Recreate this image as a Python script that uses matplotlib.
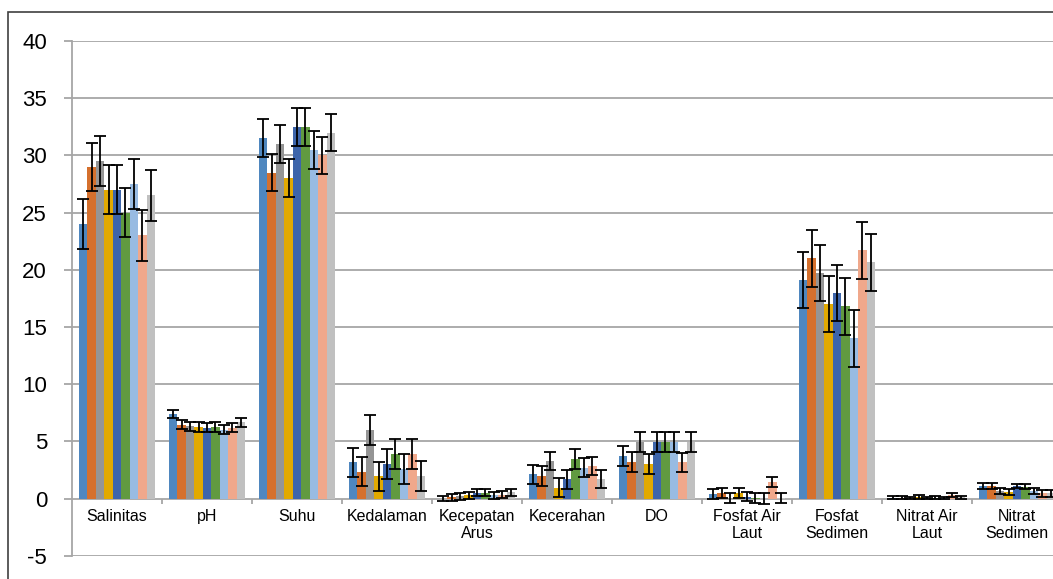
import matplotlib
matplotlib.use("Agg")
import matplotlib.pyplot as plt
import matplotlib.patches as mpatches
import numpy as np

categories = ["Salinitas", "pH", "Suhu", "Kedalaman", "Kecepatan\nArus", "Kecerahan",
              "DO", "Fosfat Air\nLaut", "Fosfat\nSedimen", "Nitrat Air\nLaut", "Nitrat\nSedimen"]

# one row per category, nine series per row
values = np.array([
    [24.0, 29.0, 29.5, 27.0, 27.0, 25.0, 27.5, 23.0, 26.5],
    [7.35, 6.45, 6.3, 6.25, 6.2, 6.25, 6.0, 6.2, 6.65],
    [31.5, 28.5, 31.0, 28.0, 32.5, 32.5, 30.5, 30.0, 32.0],
    [3.15, 2.35, 6.0, 1.95, 3.0, 3.9, 2.55, 3.9, 1.95],
    [0.0, 0.1, 0.2, 0.3, 0.5, 0.5, 0.3, 0.35, 0.55],
    [2.1, 1.95, 3.25, 0.95, 1.7, 3.45, 2.7, 2.85, 1.7],
    [3.7, 3.2, 4.95, 3.05, 4.95, 4.95, 4.95, 3.15, 4.95],
    [0.4, 0.47, 0.05, 0.5, 0.15, 0.02, 0.0, 1.45, 0.02],
    [19.1, 21.0, 19.75, 17.0, 17.95, 16.8, 14.0, 21.7, 20.65],
    [0.08, 0.08, 0.05, 0.15, 0.05, 0.08, 0.05, 0.3, 0.1],
    [1.12, 1.1, 0.65, 0.55, 1.1, 1.05, 0.65, 0.45, 0.45],
])

errors = np.array([
    [2.2, 2.1, 2.2, 2.15, 2.15, 2.15, 2.2, 2.2, 2.2],
    [0.35, 0.4, 0.4, 0.4, 0.4, 0.4, 0.4, 0.4, 0.4],
    [1.65, 1.65, 1.65, 1.65, 1.65, 1.65, 1.65, 1.65, 1.65],
    [1.3, 1.25, 1.3, 1.27, 1.3, 1.3, 1.3, 1.3, 1.3],
    [0.25, 0.3, 0.3, 0.3, 0.3, 0.3, 0.3, 0.3, 0.3],
    [0.83, 0.85, 0.8, 0.8, 0.83, 0.85, 0.82, 0.82, 0.82],
    [0.88, 0.87, 0.87, 0.87, 0.87, 0.87, 0.87, 0.87, 0.87],
    [0.45, 0.45, 0.45, 0.45, 0.4, 0.45, 0.45, 0.42, 0.45],
    [2.47, 2.47, 2.45, 2.47, 2.47, 2.47, 2.47, 2.47, 2.47],
    [0.12, 0.12, 0.12, 0.15, 0.12, 0.12, 0.12, 0.17, 0.12],
    [0.27, 0.27, 0.28, 0.28, 0.2, 0.2, 0.28, 0.3, 0.3],
])

colors = ["#4F87BF", "#D5702D", "#959595", "#E2A900", "#3D65AB",
          "#619A40", "#98BBE2", "#F0A88B", "#C0C0C0"]

yticks = list(range(-5, 45, 5))

plt.rcParams['font.family'] = ['Liberation Sans', 'DejaVu Sans']
plt.rcParams['axes.unicode_minus'] = False

fig = plt.figure(figsize=(10.53, 5.79), dpi=100)
ax = fig.add_axes([72 / 1053, 23.3 / 579, 990 / 1053, 514.7 / 579])

n_series = values.shape[1]
width = 0.845 / n_series
x = np.arange(len(categories))

for j in range(n_series):
    ax.bar(x + (j - (n_series - 1) / 2) * width, values[:, j], width,
           color=colors[j], yerr=errors[:, j], zorder=3,
           error_kw=dict(ecolor="black", elinewidth=1.3, capsize=4.5, capthick=1.3, zorder=4))

ax.set_xlim(-0.5, len(categories) - 0.5)
ax.set_ylim(-5, 40)
ax.set_yticks(yticks)
ax.set_xticks([])
ax.grid(axis="y", color="#A6A6A6", linewidth=1.3, zorder=0)
ax.set_axisbelow(True)
for s in ["top", "right", "bottom"]:
    ax.spines[s].set_visible(False)
ax.spines["left"].set_color("#A6A6A6")
ax.spines["left"].set_linewidth(1.3)
ax.tick_params(axis="y", length=6, width=1.3, color="#A6A6A6", pad=12, labelsize=16)

# category boundary ticks below the zero line
ax.vlines(np.arange(len(categories)) + 0.5, -0.45, 0, color="#A6A6A6", linewidth=1.3, zorder=2)

for i, name in enumerate(categories):
    ax.text(i, -0.96, name, ha="center", va="top", fontsize=11.5, linespacing=1.15)

fig.patches.append(mpatches.Rectangle((8 / 1053, -0.1), 1.2, 567 / 579 + 0.1,
                                      transform=fig.transFigure, fill=False,
                                      edgecolor="#404040", linewidth=1.2))

fig.savefig("out.png", dpi=100)
